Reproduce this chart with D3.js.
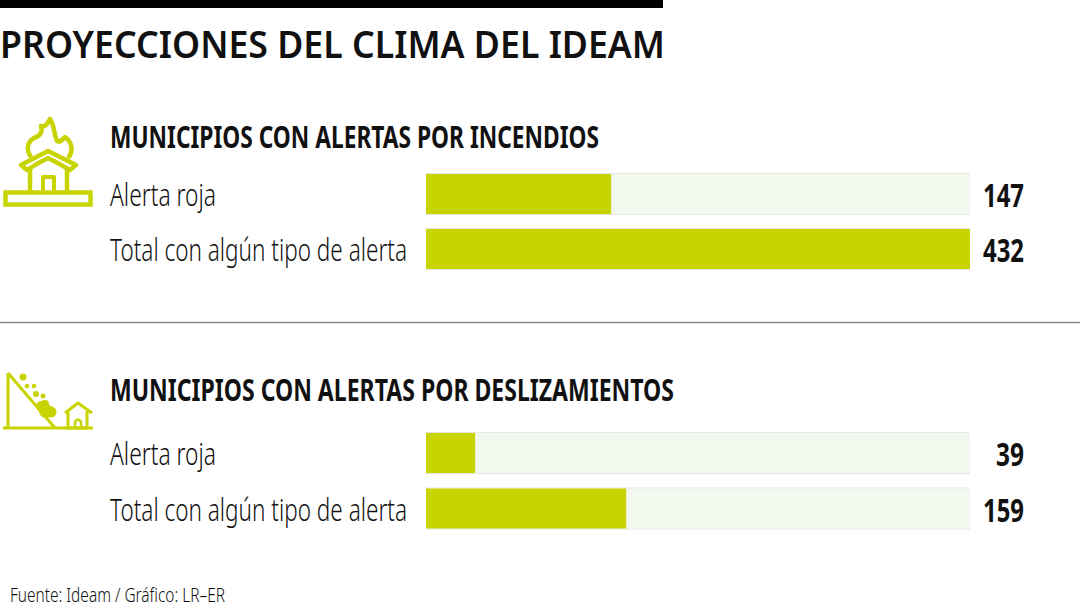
<!DOCTYPE html>
<html>
<head>
<meta charset="utf-8">
<script src="https://cdn.jsdelivr.net/npm/d3@7"></script>
<style>
  html, body { margin: 0; padding: 0; background: #fff; }
  svg { display: block; }
  text { font-family: "Noto Sans", "Open Sans", sans-serif; fill: #111; }
</style>
</head>
<body>
<svg id="chart" width="1080" height="608"></svg>
<script>
const title = 'PROYECCIONES DEL CLIMA DEL IDEAM';
const source = 'Fuente: Ideam / Gráfico: LR–ER';
const categories = ['Alerta roja', 'Total con algún tipo de alerta'];
const sections = ['MUNICIPIOS CON ALERTAS POR INCENDIOS', 'MUNICIPIOS CON ALERTAS POR DESLIZAMIENTOS'];
const incendios = [147, 432];
const deslizamientos = [39, 159];
const maxValue = 432;

const lime = '#c8d400', track = '#f3f8ee';
const svg = d3.select('#chart');
const x = d3.scaleLinear().domain([0, maxValue]).range([426, 970]);

// the original face is a condensed one, so squeeze to the measured width
function label(g, str, px, py, size, weight, width, anchor) {
  return g.append('text')
    .attr('x', px).attr('y', py)
    .attr('font-size', size)
    .attr('font-weight', weight)
    .attr('text-anchor', anchor || 'start')
    .attr('textLength', width)
    .attr('lengthAdjust', 'spacingAndGlyphs')
    .text(str);
}

svg.append('rect').attr('x', 0).attr('y', 0).attr('width', 663).attr('height', 8).attr('fill', '#000');
label(svg, title, 0, 58, 37, 600, 665);

svg.append('line').attr('x1', 0).attr('x2', 1080).attr('y1', 322.5).attr('y2', 322.5)
  .attr('stroke', '#8a8a8a').attr('stroke-width', 1.5);

function section(name, nameWidth, headY, values, rowY) {
  const g = svg.append('g');
  label(g, name, 110, headY, 31, 700, nameWidth);
  const y = d3.scaleOrdinal().domain(categories).range(rowY);
  const rows = g.selectAll('g.row')
    .data(categories.map((c, i) => ({ c, v: values[i] })))
    .join('g').attr('class', 'row')
    .attr('transform', d => `translate(0,${y(d.c)})`);

  rows.append('rect').attr('x', x(0)).attr('y', 0)
    .attr('width', x(maxValue) - x(0)).attr('height', 40).attr('fill', track);
  // faint hairlines on the track edges
  rows.append('path')
    .attr('d', `M${x(0)} -0.5H${x(maxValue)}M${x(0)} 40.5H${x(maxValue)}`)
    .attr('stroke', '#e6e6e0').attr('stroke-width', 1);
  rows.append('rect').attr('x', x(0)).attr('y', 0)
    .attr('width', d => x(d.v) - x(0)).attr('height', 40).attr('fill', lime);
  rows.each(function (d, i) {
    const row = d3.select(this);
    label(row, d.c, 110, 32, 31, 300, i === 0 ? 106 : 297);
    label(row, String(d.v), 1024, 33, 33, 700, String(d.v).length === 3 ? 41 : 28, 'end');
  });
}

section(sections[0], 489, 148, incendios, [174, 229]);
section(sections[1], 564, 401, deslizamientos, [433, 488.5]);

label(svg, source, 10, 602, 20, 300, 215);

// icons
const icon = svg.append('g').attr('fill', 'none').attr('stroke', lime).attr('stroke-linejoin', 'round');

const fire = icon.append('g').attr('stroke-width', 4.5);
fire.append('rect').attr('x', 5.5).attr('y', 192.5).attr('width', 85).attr('height', 12).attr('stroke-linejoin', 'miter');
fire.append('path').attr('d', 'M30 192V169M67 192V169');
fire.append('path').attr('stroke-width', 4).attr('d', 'M43 192V177H54V192');
fire.append('path').attr('d', 'M21 165L48 151L76 165L70 170Q60 164 48 158Q36 164 27 170Z');
fire.append('path').attr('d', 'M31 157C26 150 27 142 34 138C40 136 43 132 41 126C46 127 47 124 50 119C55 126 53 132 57 141C60 143 62 140 65 137C72 142 74 151 68 158');

const slide = icon.append('g').attr('stroke-width', 3);
slide.append('path').attr('d', 'M8 373L55 428M8 373V428M3 428H93');
slide.append('path').attr('d', 'M65 413L78 403L92 413M68 411V428H87V411');
slide.append('path').attr('d', 'M75 428V422Q78 417 81 422V428').attr('stroke-width', 2.5);
slide.append('g').attr('stroke', 'none').attr('fill', lime)
  .selectAll('circle')
  .data([[23, 377, 3.5], [27, 386, 2.3], [34, 386, 2.3], [36, 394, 3], [43, 396, 2.5], [41, 406, 5], [46, 411, 7], [51, 412, 5.5], [45, 404, 4]])
  .join('circle')
  .attr('cx', d => d[0]).attr('cy', d => d[1]).attr('r', d => d[2]);
</script>
</body>
</html>
